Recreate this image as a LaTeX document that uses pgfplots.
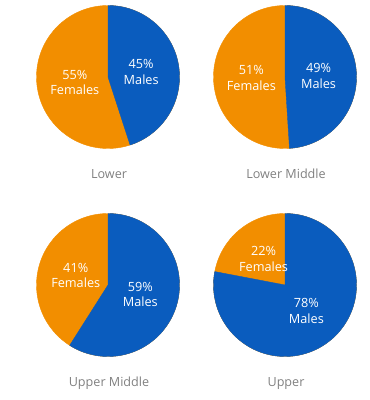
\documentclass[border=0pt]{standalone}
\usepackage{pgfplots}
\pgfplotsset{compat=1.18}
\usepackage{pgfplotstable}
\usepackage{fontspec}
\setmainfont{Open Sans}
\definecolor{pieblue}{HTML}{0A5CBE}
\definecolor{pieorange}{HTML}{F28E00}
\definecolor{labgray}{HTML}{808080}
\pgfplotstableread[col sep=comma]{
x,y,male,name
0,1,45,Lower
1,1,49,Lower Middle
0,0,59,Upper Middle
1,0,78,Upper
}\piedata
\begin{document}
\begin{tikzpicture}
\def\R{71.5pt}
\begin{axis}[
  x=177pt, y=208pt,
  xmin=-0.6102, xmax=1.4746, ymin=-0.5529, ymax=1.3702,
  axis lines=none, ticks=none, clip=false,
]
\path (rel axis cs:0,0) rectangle (rel axis cs:1,1);
\addplot[scatter, only marks, mark=*, mark size=0pt, mark options={draw=none,fill=none},
  point meta=explicit symbolic,
  scatter/@pre marker code/.code={%
    \edef\male{\pgfplotspointmeta}%
    \pgfmathsetmacro\ang{\male*3.6}%
    \pgfmathtruncatemacro\fem{100-\male}%
    \pgfmathsetmacro\mm{90-\ang/2}%
    \pgfmathsetmacro\fm{90+(360-\ang)/2}%
    \pgfmathsetlengthmacro\rr{0.47*\R}%
    \fill[pieorange] (canvas cs:x=0pt,y=0pt) circle[radius=\R];
    \fill[pieblue] (canvas cs:x=0pt,y=0pt) -- (canvas polar cs:angle=90,radius=\R) arc[start angle=90, delta angle=-\ang, radius=\R] -- cycle;
    \node[text=white, align=center, font=\fontsize{12.7}{15.5}\selectfont] at (canvas polar cs:angle=\mm,radius=\rr) {\male\%\\Males};
    \node[text=white, align=center, font=\fontsize{12.7}{15.5}\selectfont] at (canvas polar cs:angle=\fm,radius=\rr) {\fem\%\\Females};
  },
  scatter/@post marker code/.code={},
] table[x=x, y=y, meta=male] {\piedata};
\addplot[only marks, mark=none, point meta=explicit symbolic,
  nodes near coords, nodes near coords align={center},
  every node near coord/.append style={text=labgray, font=\fontsize{12.6}{15}\selectfont, anchor=base, yshift=-101.5pt, xshift=1pt},
] table[x=x, y=y, meta=name] {\piedata};
\end{axis}
\end{tikzpicture}
\end{document}
